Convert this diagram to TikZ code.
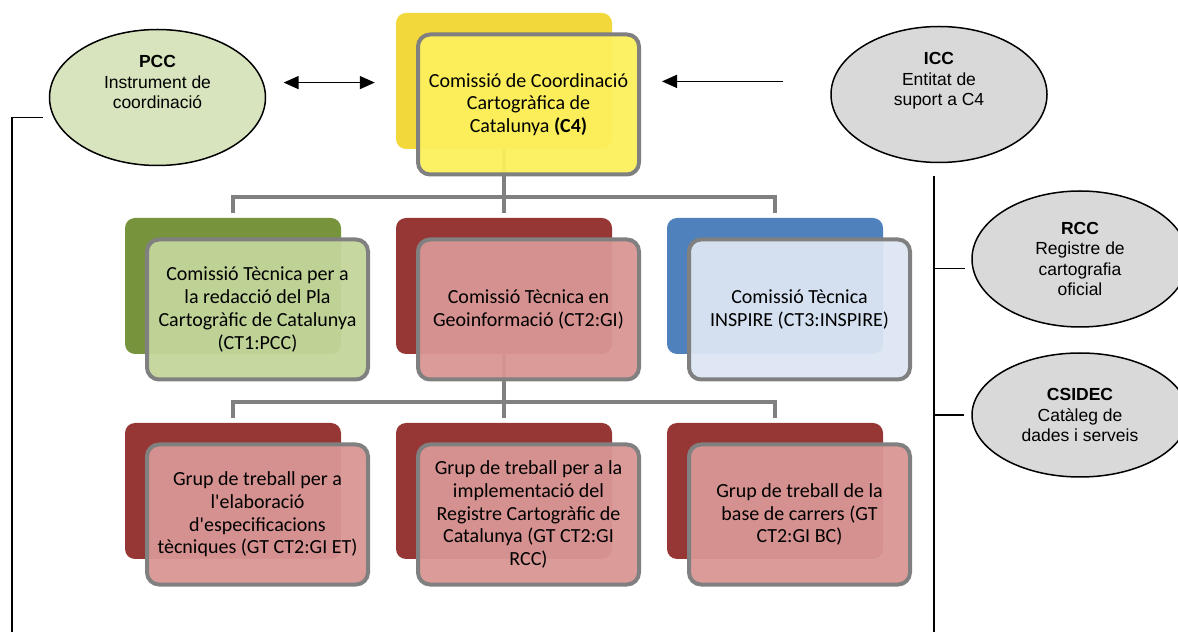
\documentclass[tikz,border=0pt]{standalone}
\usepackage{fontspec}
\setmainfont{Carlito}
\newfontfamily\boxfont{Carlito}
\newfontfamily\arialfont{Liberation Sans}
\usetikzlibrary{shapes.geometric,arrows.meta,backgrounds}
\begin{document}
\begin{tikzpicture}[x=1pt,y=1pt,
  backbox/.style={rectangle,rounded corners=10pt,minimum width=216pt,minimum height=136pt,inner sep=0pt},
  frontbox/.style={rectangle,rounded corners=12pt,draw=borderColor,line width=4pt,
    fill opacity=0.95,text opacity=1,minimum width=221pt,minimum height=140pt,
    inner sep=0pt,align=center,font=\boxfont\fontsize{20}{22.7}\selectfont},
  bubble/.style={ellipse,draw=black,line width=1.5pt,minimum width=216pt,minimum height=136pt,
    inner sep=0pt,align=center,font=\arialfont\fontsize{17.5}{20.5}\selectfont},
  bus/.style={draw=busColor,line width=4pt},
  link/.style={draw=black,line width=1.6pt},
  twoway/.style={line width=1.6pt,{Triangle[length=15pt,width=13pt]}-{Triangle[length=15pt,width=13pt]}},
  oneway/.style={line width=1.6pt,-{Triangle[length=15pt,width=13pt]}}]
\definecolor{borderColor}{gray}{0.50}
\definecolor{busColor}{gray}{0.50}
\definecolor{yellowBack}{RGB}{242,216,58}
\definecolor{yellowFront}{RGB}{252,240,92}
\definecolor{greenBack}{RGB}{119,147,60}
\definecolor{greenFront}{RGB}{195,214,155}
\definecolor{redBack}{RGB}{150,55,53}
\definecolor{redFront}{RGB}{217,150,148}
\definecolor{blueBack}{RGB}{79,129,189}
\definecolor{blueFront}{RGB}{220,230,242}
\definecolor{pccFill}{RGB}{215,228,189}
\definecolor{grayFill}{gray}{0.85}
\useasboundingbox (0,0) rectangle (1178,632);

% ellipses
\node[bubble,fill=pccFill] (pcc) at (157.5,534.5) {\textbf{PCC}\\Instrument de\\coordinació\\[10pt]};
\node[bubble,fill=grayFill] (icc) at (939,537.5) {\textbf{ICC}\\Entitat de\\suport a C4\\[10pt]};
\node[bubble,fill=grayFill] (rcc) at (1080,373) {\textbf{RCC}\\Registre de\\cartografia\\oficial};
\node[bubble,fill=grayFill,minimum height=124pt] (csidec) at (1080,217) {\textbf{CSIDEC}\\Catàleg de\\dades i serveis};

% back boxes
\node[backbox,fill=yellowBack] (c4b) at (504,551) {};
\node[backbox,fill=greenBack] (ct1b) at (233,346) {};
\node[backbox,fill=redBack] (ct2b) at (504,346) {};
\node[backbox,fill=blueBack] (ct3b) at (775,346) {};
\node[backbox,fill=redBack] (gt1b) at (233,141) {};
\node[backbox,fill=redBack] (gt2b) at (504,141) {};
\node[backbox,fill=redBack] (gt3b) at (775,141) {};

% front boxes
\node[frontbox,fill=yellowFront] (c4f) at ([shift={(24.5,-23.5)}]c4b)
  {Comissió de Coordinació\\Cartogràfica de\\Catalunya \textbf{(C4)}};
\node[frontbox,fill=greenFront] (ct1f) at ([shift={(24.5,-23.5)}]ct1b)
  {Comissió Tècnica per a\\la redacció del Pla\\Cartogràfic de Catalunya\\(CT1:PCC)};
\node[frontbox,fill=redFront] (ct2f) at ([shift={(24.5,-23.5)}]ct2b)
  {Comissió Tècnica en\\Geoinformació (CT2:GI)};
\node[frontbox,fill=blueFront] (ct3f) at ([shift={(24.5,-23.5)}]ct3b)
  {Comissió Tècnica\\INSPIRE (CT3:INSPIRE)};
\node[frontbox,fill=redFront] (gt1f) at ([shift={(24.5,-23.5)}]gt1b)
  {Grup de treball per a\\l'elaboració\\d'especificacions\\tècniques (GT CT2:GI ET)};
\node[frontbox,fill=redFront] (gt2f) at ([shift={(24.5,-23.5)}]gt2b)
  {Grup de treball per a la\\implementació del\\Registre Cartogràfic de\\Catalunya (GT CT2:GI\\RCC)};
\node[frontbox,fill=redFront] (gt3f) at ([shift={(24.5,-23.5)}]gt3b)
  {Grup de treball de la\\base de carrers (GT\\CT2:GI BC)};

% tree connectors
\coordinate (bus1) at (504,435);
\coordinate (bus2) at (504,230);
\begin{scope}[on background layer]
\path[bus,shorten >=5pt] (c4b.center) -- (ct2b.north);
\path[bus,shorten <=5pt,shorten >=5pt] (ct1b.north) |- (bus1) -| (ct3b.north);
\path[bus,shorten >=5pt] (ct2b.center) -- (gt2b.north);
\path[bus,shorten <=5pt,shorten >=5pt] (gt1b.north) |- (bus2) -| (gt3b.north);
\end{scope}

% arrows
\draw[twoway,shorten <=20pt,shorten >=21pt] (pcc.8) -- (pcc.8 -| c4b.west);
\draw[oneway,shorten <=49pt,shorten >=21pt] (icc.173) -- (icc.173 -| c4f.east);

% side lines
\coordinate (lbot) at (12,0);
\coordinate (rtop) at (934,456);
\coordinate (rbot) at (934,0);
\path[link,shorten >=11pt] (lbot) |- (pcc.191);
\path[link] (rtop) -- (rbot);
\path[link,shorten >=7pt] (rtop |- rcc.185) -- (rcc.185);
\path[link,shorten >=7pt] (rtop |- csidec.west) -- (csidec.west);
\end{tikzpicture}
\end{document}
